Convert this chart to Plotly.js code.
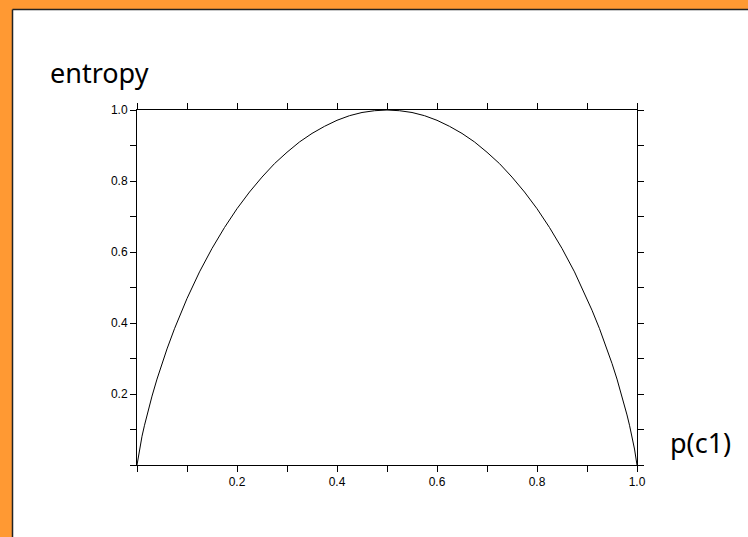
<!DOCTYPE html>
<html>
<head>
<meta charset="utf-8">
<script src="https://cdn.plot.ly/plotly-3.0.1.min.js"></script>
<style>
  html, body { margin: 0; padding: 0; background: #ffffff; }
  #chart { width: 748px; height: 537px; }
</style>
</head>
<body>
<div id="chart"></div>
<script>
// Binary entropy curve: probability of class c1 vs. entropy (bits)
const pValues = [0, 0.005, 0.01, 0.015, 0.02, 0.03, 0.04, 0.05, 0.06, 0.075, 0.09, 0.1, 0.125, 0.15, 0.175,
                 0.2, 0.225, 0.25, 0.275, 0.3, 0.325, 0.35, 0.375, 0.4, 0.425, 0.45, 0.475, 0.5,
                 0.525, 0.55, 0.575, 0.6, 0.625, 0.65, 0.675, 0.7, 0.725, 0.75, 0.775, 0.8, 0.825,
                 0.85, 0.875, 0.9, 0.91, 0.925, 0.94, 0.95, 0.96, 0.97, 0.98, 0.985, 0.99, 0.995, 1.0];
const entropyValues = [0, 0.045, 0.081, 0.112, 0.141, 0.194, 0.242, 0.286, 0.327, 0.384, 0.436, 0.469, 0.544, 0.610, 0.669,
                       0.722, 0.769, 0.811, 0.849, 0.881, 0.910, 0.934, 0.954, 0.971, 0.984, 0.993, 0.998, 1.0,
                       0.998, 0.993, 0.984, 0.971, 0.954, 0.934, 0.910, 0.881, 0.849, 0.811, 0.769, 0.722, 0.669,
                       0.610, 0.544, 0.469, 0.436, 0.384, 0.327, 0.286, 0.242, 0.194, 0.141, 0.112, 0.081, 0.045, 0];

// Tick positions every 0.1, labelled every 0.2 (zero left unlabelled)
const tickPositions = [0, 0.1, 0.2, 0.3, 0.4, 0.5, 0.6, 0.7, 0.8, 0.9, 1.0];
const tickLabels = ['', '', '0.2', '', '0.4', '', '0.6', '', '0.8', '', '1.0'];

const yAxisLabel = 'entropy';
const xAxisLabel = 'p(c1)';

const W = 748, H = 537;
const M = { l: 137, r: 111, t: 110, b: 72 };
const plotW = W - M.l - M.r, plotH = H - M.t - M.b;
// pixel -> paper coordinate helpers for the frame decoration
const px = x => (x - M.l) / plotW;
const py = y => (H - M.b - y) / plotH;

const trace = {
  x: pValues,
  y: entropyValues,
  type: 'scatter',
  mode: 'lines',
  line: { color: '#000000', width: 1 },
  hoverinfo: 'x+y'
};

const axisCommon = {
  range: [0, 1],
  tickmode: 'array',
  tickvals: tickPositions,
  ticktext: tickLabels,
  ticks: 'outside',
  ticklen: 6,
  tickwidth: 1,
  tickcolor: '#000000',
  showline: true,
  linecolor: '#000000',
  linewidth: 1,
  mirror: 'ticks',
  showgrid: false,
  zeroline: false,
  fixedrange: true,
  tickfont: { family: 'Liberation Sans, Arial, sans-serif', size: 12, color: '#000000' }
};

const labelFont = { family: 'Comic Sans MS, Noto Sans, sans-serif', size: 27, color: '#000000' };

const layout = {
  width: W,
  height: H,
  margin: M,
  paper_bgcolor: '#FF9933',
  plot_bgcolor: '#ffffff',
  showlegend: false,
  xaxis: Object.assign({}, axisCommon),
  yaxis: Object.assign({}, axisCommon),
  shapes: [
    // white page area inside the orange frame
    { type: 'rect', xref: 'paper', yref: 'paper', layer: 'below',
      x0: px(12.5), x1: px(W + 5), y0: py(H + 5), y1: py(9.5),
      fillcolor: '#ffffff', line: { width: 0 } },
    // dark edge along the left and top of the page
    { type: 'line', xref: 'paper', yref: 'paper', layer: 'below',
      x0: px(12.5), x1: px(12.5), y0: py(H + 5), y1: py(9.5),
      line: { color: '#222222', width: 1.5 } },
    { type: 'line', xref: 'paper', yref: 'paper', layer: 'below',
      x0: px(12.5), x1: px(W + 5), y0: py(9.5), y1: py(9.5),
      line: { color: '#222222', width: 1.5 } }
  ],
  annotations: [
    { text: yAxisLabel, xref: 'paper', yref: 'paper', showarrow: false,
      x: px(48), y: py(73), xanchor: 'left', yanchor: 'middle', font: labelFont },
    { text: xAxisLabel, xref: 'paper', yref: 'paper', showarrow: false,
      x: px(668), y: py(442), xanchor: 'left', yanchor: 'middle', font: labelFont }
  ]
};

Plotly.newPlot('chart', [trace], layout, { displayModeBar: false, staticPlot: true });
</script>
</body>
</html>
